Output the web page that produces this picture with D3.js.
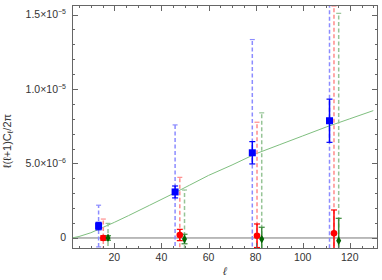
<!DOCTYPE html>
<html>
<head>
<meta charset="utf-8">
<script src="https://cdn.jsdelivr.net/npm/d3@7"></script>
<style>
  body { margin: 0; background: #fff; }
  text { font-family: "Liberation Sans", Arial, sans-serif; fill: #333; }
</style>
</head>
<body>
<div id="chart"></div>
<script>
// multipole positions of the three series
var lBlue  = [13.3, 45.8, 78.6, 111.4];
var lRed   = [15.3, 47.8, 80.6, 113.3];
var lGreen = [17.3, 49.8, 82.6, 115.3];

// values (units of 1e-6)
var blueVal   = [0.8, 3.09, 5.72, 7.87];
var blueErr   = [0.25, 0.4, 0.75, 1.45];     // solid bars
var blueSys   = [1.4, 4.5, 7.6, 9.0];         // dashed bars
var redVal    = [0.0, 0.2, 0.15, 0.31];
var redErr    = [0.15, 0.38, 0.79, 1.57];
var redSys    = [1.27, 3.87, 7.62, 15.26];
var greenVal  = [0.0, -0.07, -0.07, -0.18];
var greenErr  = [0.15, 0.32, 0.79, 1.5];
var greenSys  = [0.98, 3.29, 8.47, 15.26];

// smooth model curve
var curveL = [2, 5, 10, 15, 20, 26, 35, 45, 52, 60, 70, 80, 90, 100, 110, 120, 130];
var curveV = [0, 0.1, 0.35, 0.7, 1.05, 1.5, 2.2, 2.98, 3.55, 4.2, 4.9, 5.65, 6.25, 6.85, 7.45, 8.0, 8.55];

var yTicks = [0, 5, 10, 15];
var yTickLabels = ["0", "5.0×10", "1.0×10", "1.5×10"];
var yTickExp = ["", "−6", "−5", "−5"];
var xTicks = [20, 40, 60, 80, 100, 120];

var W = 382, H = 280;
var m = {left: 72, right: 4, top: 5, bottom: 31};

var svg = d3.select("#chart").append("svg")
  .attr("width", W).attr("height", H);

var x = d3.scaleLinear().domain([2, 132]).range([m.left, W - m.right]);
var y = d3.scaleLinear().domain([-0.74, 15.64]).range([H - m.bottom, m.top]);

svg.append("defs").append("clipPath").attr("id", "clip")
  .append("rect")
  .attr("x", m.left).attr("y", m.top)
  .attr("width", W - m.left - m.right).attr("height", H - m.top - m.bottom);

var plot = svg.append("g").attr("clip-path", "url(#clip)");

// zero line
plot.append("line")
  .attr("x1", x.range()[0]).attr("x2", x.range()[1])
  .attr("y1", y(0)).attr("y2", y(0))
  .attr("stroke", "#777").attr("stroke-width", 1);

// model curve
var line = d3.line().x(function(d){ return x(d[0]); }).y(function(d){ return y(d[1]); });
plot.append("path")
  .datum(d3.zip(curveL, curveV))
  .attr("d", line)
  .attr("fill", "none").attr("stroke", "#7fbf7f").attr("stroke-width", 1);

function errBars(ls, vals, err, col, w, cap, dash) {
  var g = plot.append("g");
  ls.forEach(function(l, i) {
    var lo = vals[i] - err[i], hi = vals[i] + err[i];
    g.append("line")
      .attr("x1", x(l)).attr("x2", x(l))
      .attr("y1", y(lo)).attr("y2", y(hi))
      .attr("stroke", col).attr("stroke-width", w)
      .attr("stroke-dasharray", dash ? "4,2.5" : null);
    [lo, hi].forEach(function(v) {
      g.append("line")
        .attr("x1", x(l) - cap).attr("x2", x(l) + cap)
        .attr("y1", y(v)).attr("y2", y(v))
        .attr("stroke", col).attr("stroke-width", 1.2);
    });
  });
}

// dashed (wide) bars first
errBars(lBlue, blueVal, blueSys, "#8c8cff", 1.5, 2.5, true);
errBars(lRed, redVal, redSys, "#ff8c8c", 1.5, 2.5, true);
errBars(lGreen, greenVal, greenSys, "#96c496", 1.5, 2.5, true);

// solid bars
errBars(lBlue, blueVal, blueErr, "#0000ff", 1.5, 3, false);
errBars(lRed, redVal, redErr, "#ff0000", 1.5, 3, false);
errBars(lGreen, greenVal, greenErr, "#3a8a3a", 1.5, 3, false);

// markers
plot.selectAll(".sq").data(d3.zip(lBlue, blueVal)).enter().append("rect")
  .attr("x", function(d){ return x(d[0]) - 3.5; })
  .attr("y", function(d){ return y(d[1]) - 3.5; })
  .attr("width", 7).attr("height", 7)
  .attr("fill", "#0000ff");

plot.selectAll(".ci").data(d3.zip(lRed, redVal)).enter().append("circle")
  .attr("cx", function(d){ return x(d[0]); })
  .attr("cy", function(d){ return y(d[1]); })
  .attr("r", 3.3).attr("fill", "#ff0000");

plot.selectAll(".di").data(d3.zip(lGreen, greenVal)).enter().append("path")
  .attr("transform", function(d){ return "translate(" + x(d[0]) + "," + y(d[1]) + ")"; })
  .attr("d", d3.symbol().type(d3.symbolDiamond).size(22))
  .attr("fill", "#006400");

// frame
var frame = svg.append("g");
frame.append("rect")
  .attr("x", m.left + 0.5).attr("y", m.top + 0.5)
  .attr("width", W - m.left - m.right - 1).attr("height", H - m.top - m.bottom - 1)
  .attr("fill", "none").attr("stroke", "#666").attr("stroke-width", 1);

// inward ticks on all four sides
var xMinor = d3.range(5, 131, 5);
var yMinor = d3.range(0, 16, 1);
var tickCol = "#666";
xMinor.forEach(function(v) {
  var len = (v % 20 === 0) ? 6 : 3;
  [[H - m.bottom, -len], [m.top, len]].forEach(function(p) {
    frame.append("line")
      .attr("x1", Math.round(x(v)) + 0.5).attr("x2", Math.round(x(v)) + 0.5)
      .attr("y1", p[0]).attr("y2", p[0] + p[1])
      .attr("stroke", tickCol).attr("stroke-width", 1);
  });
});
yMinor.forEach(function(v) {
  var len = (v % 5 === 0) ? 6 : 3;
  [[m.left, len], [W - m.right, -len]].forEach(function(p) {
    frame.append("line")
      .attr("x1", p[0]).attr("x2", p[0] + p[1])
      .attr("y1", Math.round(y(v)) + 0.5).attr("y2", Math.round(y(v)) + 0.5)
      .attr("stroke", tickCol).attr("stroke-width", 1);
  });
});

// x tick labels
svg.selectAll(".xl").data(xTicks).enter().append("text")
  .attr("x", function(d){ return x(d); })
  .attr("y", H - m.bottom + 12)
  .attr("text-anchor", "middle")
  .attr("font-size", 10.5)
  .text(function(d){ return d; });

// y tick labels
yTicks.forEach(function(v, i) {
  var t = svg.append("text")
    .attr("x", m.left - 6)
    .attr("y", y(v) + 3.5)
    .attr("text-anchor", "end")
    .attr("font-size", 10.5);
  t.append("tspan").text(yTickLabels[i]);
  if (yTickExp[i]) {
    t.append("tspan").attr("dy", -4).attr("font-size", 7).text(yTickExp[i]);
  }
});

// axis titles
svg.append("text")
  .attr("x", x(67)).attr("y", H - 5)
  .attr("text-anchor", "middle")
  .attr("font-size", 11).attr("font-style", "italic")
  .text("ℓ");

var yl = svg.append("text")
  .attr("transform", "translate(11," + ((m.top + H - m.bottom) / 2 + 14) + ") rotate(-90)")
  .attr("text-anchor", "middle")
  .attr("font-size", 11);
yl.append("tspan").text("ℓ(ℓ+1)C");
yl.append("tspan").attr("dy", 2).attr("font-size", 8).text("ℓ");
yl.append("tspan").attr("dy", -2).text("/2π");
</script>
</body>
</html>
